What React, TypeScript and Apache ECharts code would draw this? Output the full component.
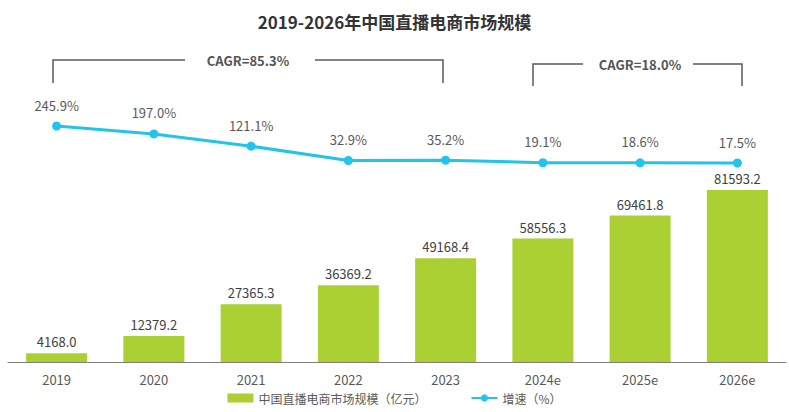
import React, { useEffect, useRef } from "react";
import * as echarts from "echarts";

const categories = ["2019", "2020", "2021", "2022", "2023", "2024e", "2025e", "2026e"];
const marketSize = [4168.0, 12379.2, 27365.3, 36369.2, 49168.4, 58556.3, 69461.8, 81593.2];
const growthRate = [245.9, 197.0, 121.1, 32.9, 35.2, 19.1, 18.6, 17.5];
const barName = "中国直播电商市场规模（亿元）";
const lineName = "增速（%）";
const cagrLabels = ["CAGR=85.3%", "CAGR=18.0%"];

const FONT = "'Noto Sans CJK SC', 'Noto Sans', sans-serif";

export default function App() {
  const ref = useRef<HTMLDivElement>(null);
  useEffect(() => {
    document.body.style.margin = "0";
    if (!ref.current) return;
    const chart = echarts.init(ref.current, null, { renderer: "svg" });
    const lineStyle = { stroke: "#595959", lineWidth: 1.5 };
    const bracket = (x1: number, x2: number, y: number, yb: number, tx: number, gapL: number, gapR: number, text: string) => [
      { type: "polyline", shape: { points: [[x1, yb], [x1, y], [tx - gapL, y]] }, style: { ...lineStyle, fill: null } },
      { type: "polyline", shape: { points: [[tx + gapR, y], [x2, y], [x2, yb]] }, style: { ...lineStyle, fill: null } },
      {
        type: "text",
        x: tx,
        y: y,
        style: { text, fill: "#555555", font: `bold 13px ${FONT}`, align: "center", verticalAlign: "middle" },
      },
    ];
    chart.setOption({
      animation: false,
      textStyle: { fontFamily: FONT },
      title: {
        text: "2019-2026年中国直播电商市场规模",
        left: "center",
        top: 8,
        textStyle: { fontSize: 17, fontWeight: "bold", color: "#333333", fontFamily: FONT },
      },
      legend: {
        bottom: 3,
        left: "center",
        itemGap: 44,
        itemWidth: 26,
        itemHeight: 9,
        textStyle: { fontSize: 12, color: "#595959", fontFamily: FONT },
        data: [
          { name: barName, icon: "rect" },
          { name: lineName },
        ],
      },
      grid: { left: 8, right: 3, top: 30, bottom: 50, containLabel: false },
      xAxis: {
        type: "category",
        data: categories,
        axisLine: { lineStyle: { color: "#7f7f7f", width: 1 } },
        axisTick: { show: false },
        axisLabel: { color: "#595959", fontSize: 13, margin: 11, fontFamily: FONT },
      },
      yAxis: [
        { type: "value", min: 0, max: 157500, show: false, splitLine: { show: false } },
        { type: "value", min: -1210.9, max: 838.5, show: false, splitLine: { show: false } },
      ],
      series: [
        {
          name: barName,
          type: "bar",
          data: marketSize,
          barWidth: 61,
          itemStyle: { color: "#aad034" },
          label: {
            show: true,
            position: "top",
            distance: 5,
            color: "#404040",
            fontSize: 13,
            fontFamily: FONT,
            formatter: (p: any) => Number(p.value).toFixed(1),
          },
        },
        {
          name: lineName,
          type: "line",
          yAxisIndex: 1,
          data: growthRate,
          symbol: "circle",
          symbolSize: 9,
          lineStyle: { color: "#22c4ec", width: 3 },
          itemStyle: { color: "#22c4ec" },
          label: {
            show: true,
            position: "top",
            distance: 10,
            color: "#595959",
            fontSize: 13,
            fontFamily: FONT,
            formatter: (p: any) => Number(p.value).toFixed(1) + "%",
          },
          z: 5,
        },
      ],
      graphic: [
        ...bracket(53, 443, 60, 83, 248, 63, 67, cagrLabels[0]),
        ...bracket(533, 742, 64, 86, 640, 57, 53, cagrLabels[1]),
      ],
    });
    return () => chart.dispose();
  }, []);
  return <div ref={ref} style={{ width: 789, height: 412 }} />;
}
